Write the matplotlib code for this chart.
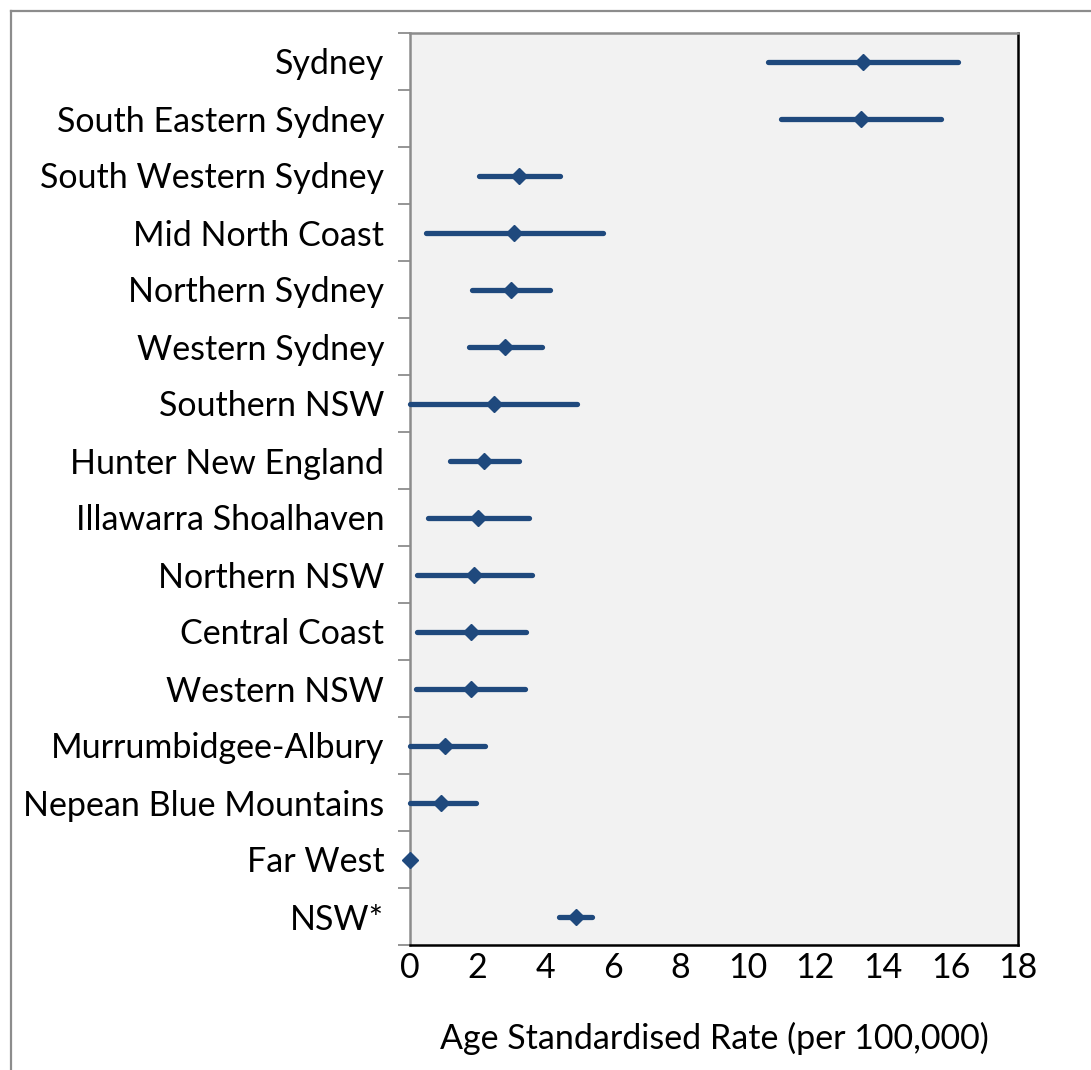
import matplotlib
matplotlib.use('Agg')
import matplotlib.pyplot as plt
from matplotlib.lines import Line2D
import numpy as np

plt.rcParams['font.family'] = ['Lato', 'DejaVu Sans']

### Age standardised rates with 95% confidence limits by health district
districts = ['Sydney', 'South Eastern Sydney', 'South Western Sydney', 'Mid North Coast',
             'Northern Sydney', 'Western Sydney', 'Southern NSW', 'Hunter New England',
             'Illawarra Shoalhaven', 'Northern NSW', 'Central Coast', 'Western NSW',
             'Murrumbidgee-Albury', 'Nepean Blue Mountains', 'Far West', 'NSW*']
rate = [13.40, 13.35, 3.23, 3.08, 2.99, 2.81, 2.49, 2.19, 2.01, 1.89, 1.81, 1.81,
        1.04, 0.92, 0.0, 4.91]
lower = [10.60, 10.98, 2.04, 0.47, 1.84, 1.75, 0.0, 1.18, 0.53, 0.21, 0.21, 0.18,
         0.0, 0.0, 0.0, 4.41]
upper = [16.22, 15.72, 4.44, 5.71, 4.14, 3.91, 4.94, 3.23, 3.52, 3.61, 3.43, 3.40,
         2.22, 1.95, 0.0, 5.39]
xticks = [0, 2, 4, 6, 8, 10, 12, 14, 16, 18]

rate = np.array(rate); lower = np.array(lower); upper = np.array(upper)
ypos = np.arange(len(districts))

fig = plt.figure(figsize=(10.91, 10.70), dpi=100)
ax = fig.add_axes([410/1091, 1 - 945/1070, 608/1091, 912/1070])
ax.set_facecolor('#F2F2F2')

eb = ax.errorbar(rate, ypos, xerr=[rate - lower, upper - rate], fmt='D',
                 color='#1F497D', ecolor='#1F497D', elinewidth=3.8, capsize=0,
                 markersize=8.5, markeredgewidth=1, zorder=3, clip_on=False)
for lc in eb[2]:
    lc.set_capstyle('round')

### Axes limits and ticks
ax.set_xlim(0, 18)
ax.set_ylim(len(districts) - 0.5, -0.5)
ax.set_xticks(xticks)
ax.set_xticklabels([str(t) for t in xticks], fontsize=24.5)
ax.tick_params(axis='x', length=0, pad=5)
ax.set_yticks(ypos)
ax.set_yticklabels(districts, fontsize=24.5)
ax.tick_params(axis='y', which='major', length=0, pad=18.5)
ax.set_yticks(np.arange(len(districts) + 1) - 0.5, minor=True)
ax.tick_params(axis='y', which='minor', length=8.5, width=1.3, color='#8C8C8C')

for side in ['left', 'top']:
    ax.spines[side].set_color('#8C8C8C')
    ax.spines[side].set_linewidth(1.8)
for side in ['bottom', 'right']:
    ax.spines[side].set_color('black')
    ax.spines[side].set_linewidth(1.8)

ax.set_xlabel('Age Standardised Rate (per 100,000)', fontsize=24.5, labelpad=27)

### Outer chart border
fig.add_artist(Line2D([11/1091, 1.0], [1 - 11/1070, 1 - 11/1070], color='#8C8C8C', linewidth=1.6))
fig.add_artist(Line2D([11/1091, 11/1091], [0.0, 1 - 11/1070], color='#8C8C8C', linewidth=1.6))

fig.savefig('out.png', dpi=100)
